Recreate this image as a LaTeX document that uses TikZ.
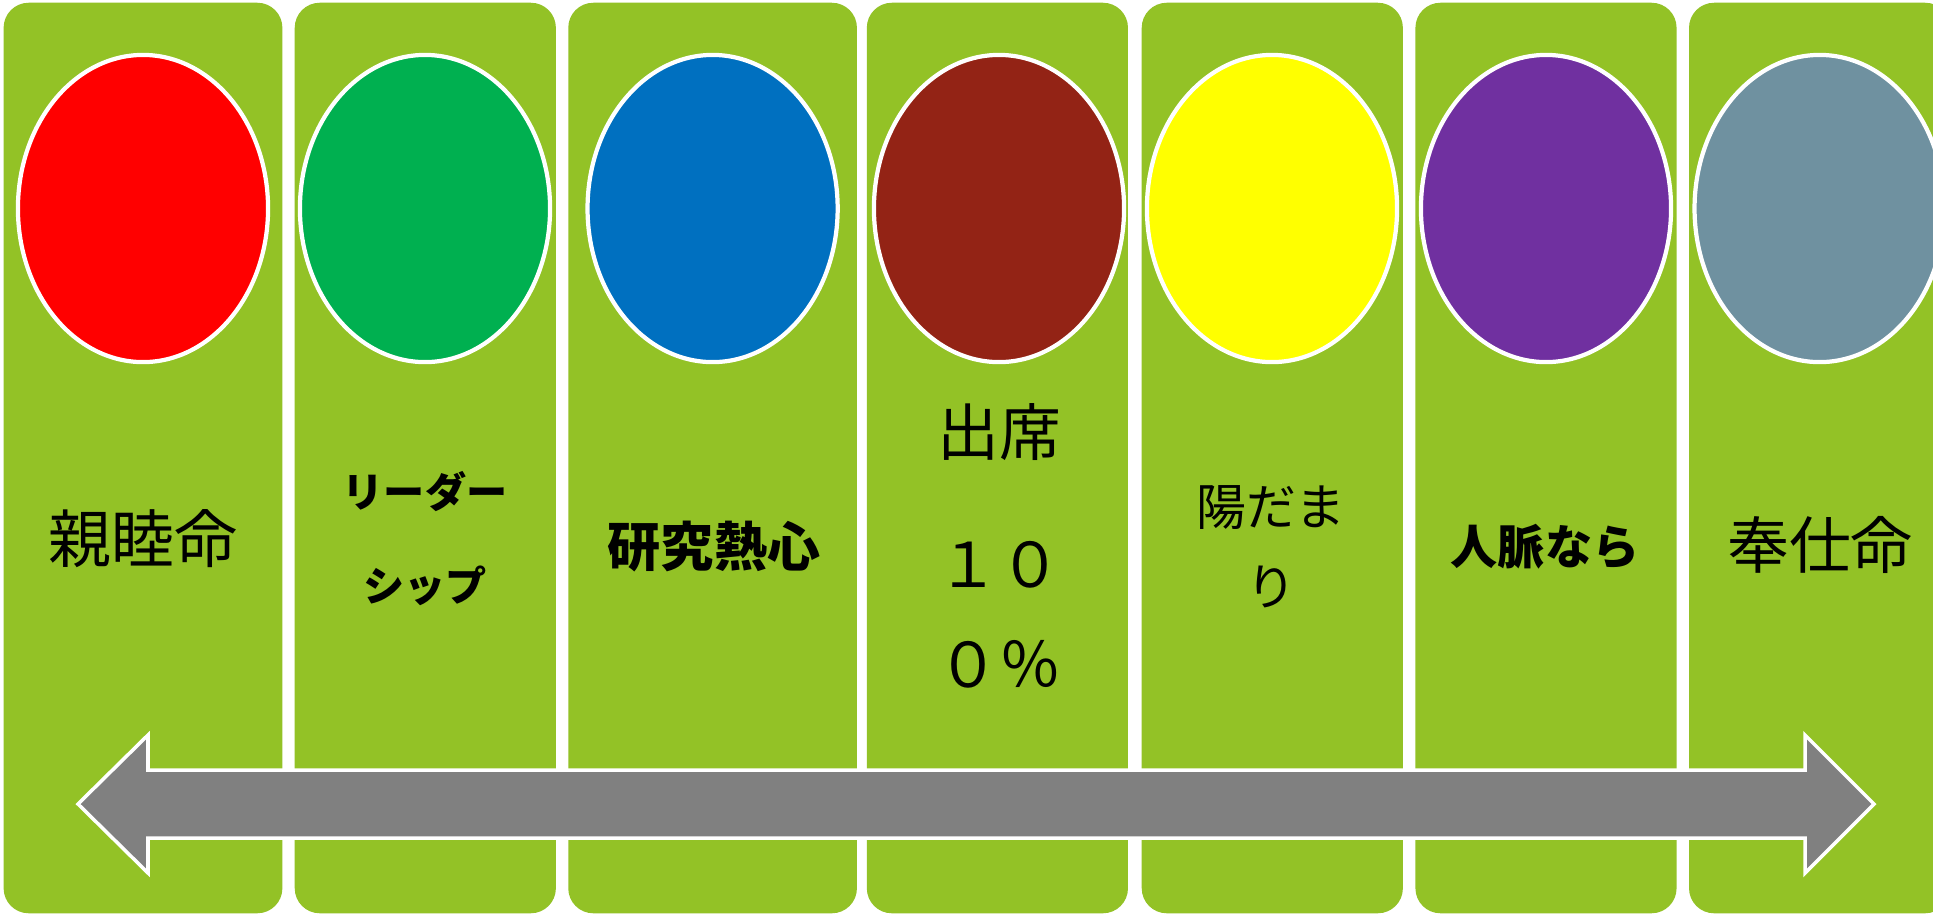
\documentclass[tikz,border=0pt]{standalone}
\usepackage{fontspec}
\setmainfont{Noto Sans CJK JP}
\usetikzlibrary{shapes.geometric}

\definecolor{panelgreen}{RGB}{147,194,38}
\definecolor{ovalred}{RGB}{255,0,0}
\definecolor{ovalgreen}{RGB}{0,176,80}
\definecolor{ovalblue}{RGB}{0,112,192}
\definecolor{ovalbrown}{RGB}{147,35,21}
\definecolor{ovalyellow}{RGB}{255,255,0}
\definecolor{ovalpurple}{RGB}{112,48,160}
\definecolor{ovalslate}{RGB}{111,145,160}
\definecolor{arrowgray}{RGB}{128,128,128}

\begin{document}
\begin{tikzpicture}[x=0.01cm, y=-0.01cm,
        panel/.style={fill=panelgreen, rounded corners=0.25cm, minimum width=2.61cm, minimum height=9.1cm, inner sep=0pt},
        badge/.style={ellipse, draw=white, line width=1.2pt, minimum width=2.5cm, minimum height=3.07cm, inner sep=0pt},
        word/.style={align=center, inner sep=0pt}]
            % Page:
            \fill[white] (0,0) rectangle (1933,914);
            \clip (0,0) rectangle (1933,914);

            % Panels:
            \node[panel, minimum width=2.786cm] (p1) at (143,458) {};
            \node[panel] (p2) at (425.3,458) {};
            \node[panel, minimum width=2.885cm] (p3) at (712.6,458) {};
            \node[panel] (p4) at (997.4,458) {};
            \node[panel] (p5) at (1272.3,458) {};
            \node[panel] (p6) at (1546,458) {};
            \node[panel] (p7) at (1819.6,458) {};

            % Ovals:
            \node[badge, fill=ovalred] (o1) at (143,208.5) {};
            \node[badge, fill=ovalgreen] (o2) at (425,208.5) {};
            \node[badge, fill=ovalblue] (o3) at (712.6,208.5) {};
            \node[badge, fill=ovalbrown] (o4) at (999,208.5) {};
            \node[badge, fill=ovalyellow] (o5) at (1272,208.5) {};
            \node[badge, fill=ovalpurple] (o6) at (1546,208.5) {};
            \node[badge, fill=ovalslate] (o7) at (1819.6,208.5) {};

            % Texts:
            \node[word, font=\fontsize{17.9}{20}\selectfont] (t1) at (143,539) {親睦命};
            \node[word, font=\bfseries\fontsize{11.7}{26.7}\selectfont] (t2) at (425,539) {リーダー\\シップ};
            \node[word, font=\bfseries\fontsize{15.1}{18}\selectfont] (t3) at (714,547) {研究熱心};
            \node[word, font=\fontsize{17.6}{28.5}\selectfont] (t4) at (999,546) {出席\\[9pt]１０\\０％};
            \node[word, font=\fontsize{14.2}{22.8}\selectfont] (t5) at (1271,547) {陽だま\\り};
            \node[word, font=\bfseries\fontsize{13.4}{16}\selectfont] (t6) at (1545,547) {人脈なら};
            \node[word, font=\fontsize{17.6}{20}\selectfont] (t7) at (1820,545) {奉仕命};

            % Double arrow:
            \draw[white, line width=1pt, fill=arrowgray] (78,804) -- (148,735) -- (148,770) -- (1805,770)
                  -- (1805,735) -- (1874,804) -- (1805,873) -- (1805,838) -- (148,838) -- (148,873) -- cycle;
        \end{tikzpicture}
\end{document}
